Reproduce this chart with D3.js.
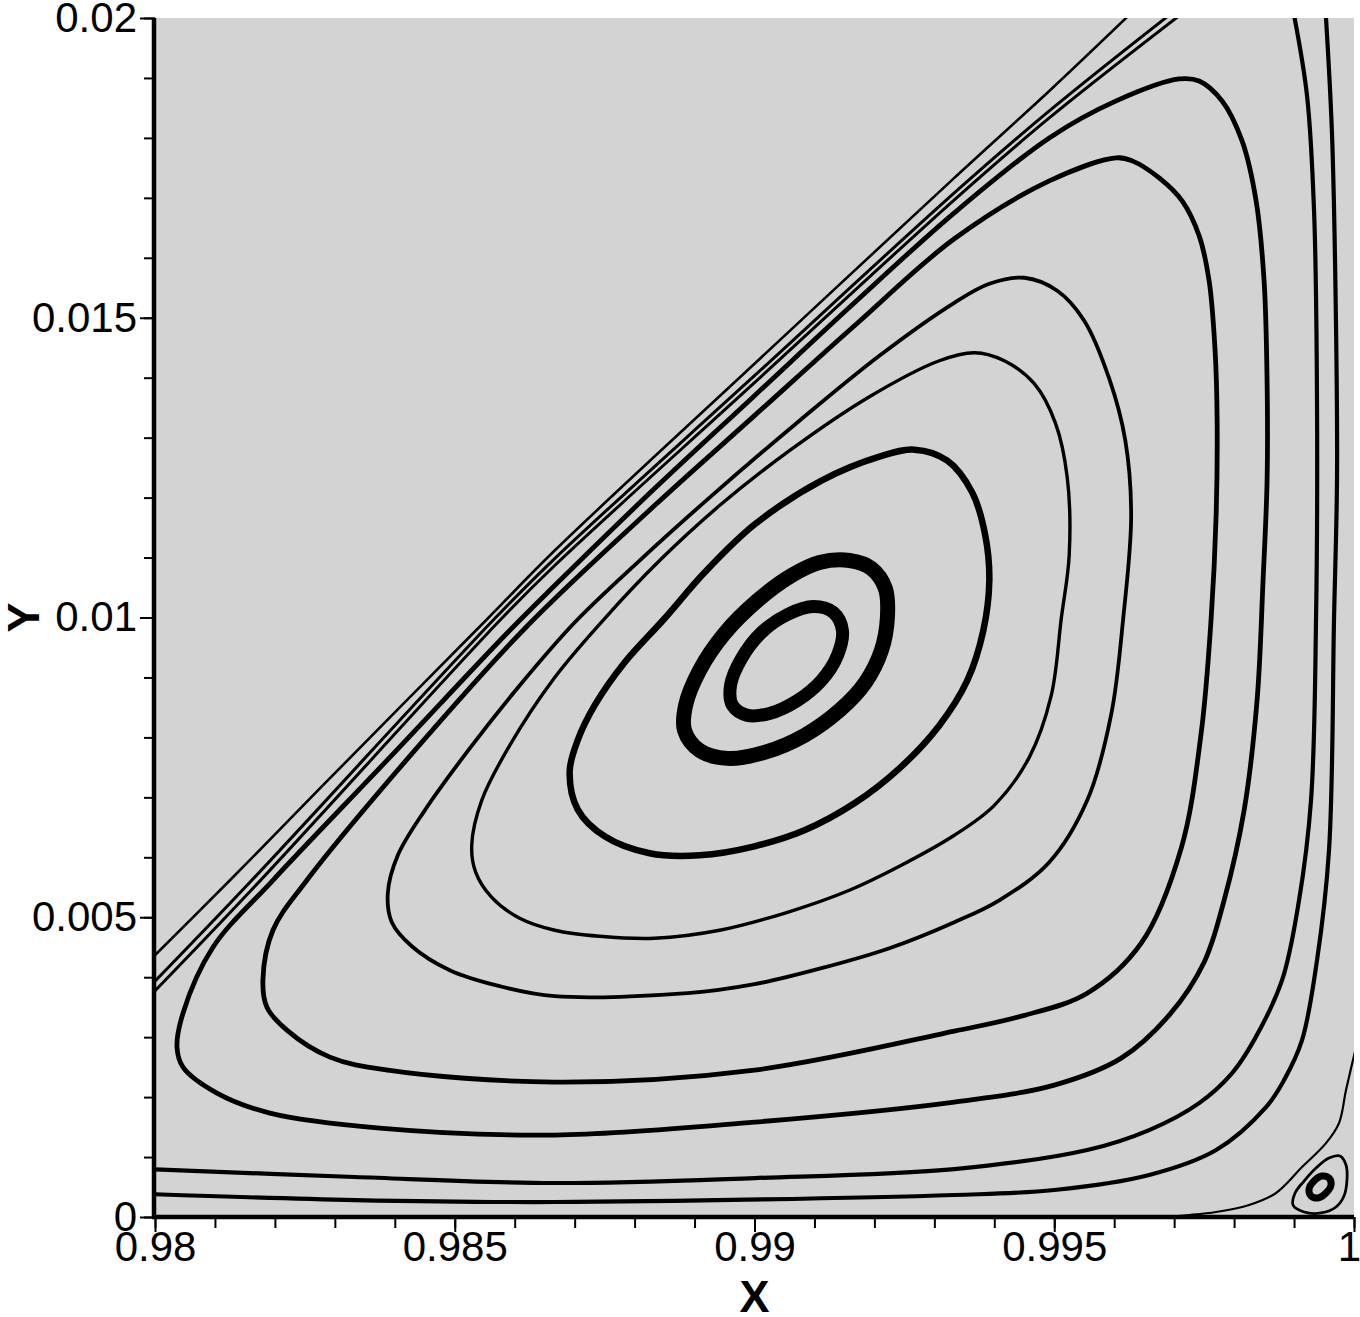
<!DOCTYPE html>
<html><head><meta charset="utf-8">
<script src="https://cdn.jsdelivr.net/npm/d3@7"></script>
<style>body{margin:0;background:#fff}svg{display:block}</style>
</head><body>
<svg id="chart" width="1360" height="1317"></svg>
<script>
// ---------- axis ticks ----------
const xTicks = [0.98, 0.985, 0.99, 0.995, 1];
const xTickLabels = ["0.98", "0.985", "0.99", "0.995", "1"];
const yTicks = [0, 0.005, 0.01, 0.015, 0.02];
const yTickLabels = ["0", "0.005", "0.01", "0.015", "0.02"];

// ---------- streamlines (X, Y) ----------
const loopA = [[0.990983,0.010183],[0.991317,0.010083],[0.991467,0.009783],[0.991383,0.009367],[0.991117,0.00895],[0.990717,0.008617],[0.99025,0.0084],[0.989883,0.008367],[0.989633,0.008533],[0.9896,0.008867],[0.989783,0.009317],[0.990117,0.00975],[0.99055,0.01005]];
const loopB = [[0.991083,0.010917],[0.991583,0.01095],[0.99195,0.010817],[0.992183,0.010483],[0.992217,0.01],[0.992117,0.00945],[0.99185,0.008917],[0.991417,0.00845],[0.990833,0.008033],[0.990167,0.00775],[0.98955,0.00765],[0.989083,0.007783],[0.988833,0.008117],[0.98885,0.008533],[0.989083,0.009117],[0.9895,0.009733],[0.99005,0.010283],[0.990617,0.0107]];
const loopC = [[0.992667,0.0128],[0.993217,0.012617],[0.993633,0.012083],[0.99385,0.011367],[0.993917,0.010617],[0.993817,0.009783],[0.99355,0.00895],[0.993083,0.0082],[0.992417,0.007483],[0.991667,0.0069],[0.990833,0.00645],[0.99,0.006183],[0.989083,0.006033],[0.98825,0.006067],[0.9875,0.00635],[0.98705,0.0068],[0.986917,0.007433],[0.98705,0.00795],[0.987333,0.008533],[0.987833,0.00925],[0.9885,0.009983],[0.989167,0.01075],[0.99,0.01155],[0.991117,0.012283],[0.992083,0.012683]];
const loopD = [[0.993667,0.014417],[0.994167,0.014283],[0.994667,0.0139],[0.995017,0.01325],[0.995217,0.012333],[0.99525,0.01105],[0.995117,0.009983],[0.99495,0.0087],[0.994583,0.007667],[0.994,0.006867],[0.993333,0.006367],[0.992417,0.00585],[0.991583,0.00545],[0.99055,0.005083],[0.989417,0.004783],[0.988333,0.00465],[0.987417,0.004683],[0.986667,0.004783],[0.986083,0.004983],[0.985617,0.005333],[0.98535,0.00575],[0.985283,0.0062],[0.98545,0.00695],[0.985917,0.007867],[0.986667,0.009],[0.9875,0.009983],[0.988417,0.01095],[0.989417,0.011867],[0.990583,0.012783],[0.991917,0.013683],[0.993083,0.014283]];
const loopE = [[0.993917,0.015567],[0.9945,0.015667],[0.99505,0.01545],[0.9955,0.01495],[0.995917,0.013983],[0.996183,0.012967],[0.996283,0.0117],[0.99615,0.009983],[0.99595,0.008383],[0.99555,0.00695],[0.994917,0.005917],[0.994083,0.005283],[0.993333,0.004917],[0.99225,0.004483],[0.991117,0.00415],[0.99,0.003883],[0.988883,0.003733],[0.986667,0.003683],[0.98575,0.00385],[0.984917,0.004117],[0.984283,0.004517],[0.98395,0.004917],[0.983883,0.0054],[0.98405,0.006033],[0.9845,0.006783],[0.98525,0.007817],[0.986083,0.008867],[0.987,0.009917],[0.988083,0.01095],[0.98925,0.012],[0.99075,0.013283],[0.992083,0.014367],[0.993333,0.01525]];
const loopF = [[0.996033,0.017667],[0.9963,0.017617],[0.99675,0.017333],[0.997133,0.01695],[0.997417,0.016367],[0.997583,0.015617],[0.997683,0.01445],[0.997717,0.013283],[0.9977,0.0117],[0.997617,0.009983],[0.99745,0.008067],[0.997117,0.00615],[0.99645,0.004567],[0.99555,0.003733],[0.99445,0.00335],[0.993333,0.0031],[0.99,0.00245],[0.986667,0.00225],[0.983883,0.00245],[0.982917,0.002667],[0.9822,0.003117],[0.981867,0.0035],[0.9818,0.00395],[0.981967,0.004783],[0.982533,0.005617],[0.984333,0.007783],[0.986217,0.009867],[0.988333,0.011867],[0.99,0.013367],[0.991667,0.014867],[0.993333,0.016317],[0.994917,0.017283]];
const loopG = [[0.996033,0.018617],[0.997083,0.018983],[0.997417,0.01895],[0.9978,0.018617],[0.998133,0.01795],[0.998367,0.01695],[0.9985,0.015617],[0.99855,0.01395],[0.99855,0.012283],[0.998483,0.010617],[0.998383,0.008617],[0.998167,0.006783],[0.997833,0.005283],[0.9975,0.00425],[0.996917,0.003367],[0.996117,0.00265],[0.995,0.0022],[0.993333,0.001917],[0.99,0.001583],[0.986667,0.001367],[0.98375,0.001483],[0.981917,0.001733],[0.981033,0.002067],[0.980467,0.0025],[0.980367,0.002833],[0.980467,0.0034],[0.980967,0.0045],[0.981967,0.005617],[0.983917,0.007667],[0.985883,0.00975],[0.986667,0.010533],[0.988333,0.01215],[0.99,0.0137],[0.991667,0.01525],[0.993333,0.01675],[0.994917,0.018]];
const diag1 = [[0.9799,0.00427],[0.98125,0.005617],[0.982783,0.007183],[0.98555,0.009983],[0.986667,0.011117],[0.99,0.014233],[0.993333,0.017333],[0.994917,0.018783],[0.99625,0.02005]];
const diag2 = [[0.9799,0.00383],[0.981583,0.005583],[0.985667,0.009983],[0.986667,0.010983],[0.99,0.014033],[0.993333,0.017083],[0.994917,0.01845],[0.99692,0.02005]];
const diag3 = [[0.9799,0.00367],[0.981667,0.005517],[0.98575,0.00995],[0.986667,0.010867],[0.99,0.013917],[0.993333,0.016967],[0.994917,0.018333],[0.9971,0.02005]];
const wall1 = [[0.999,0.02005],[0.999217,0.0187],[0.999333,0.0168],[0.999383,0.0136],[0.999367,0.009983],[0.999283,0.00695],[0.999083,0.005283],[0.9988,0.00395],[0.998333,0.00295],[0.997967,0.0024],[0.997417,0.0019],[0.996583,0.00145],[0.99555,0.001117],[0.993333,0.0008],[0.99,0.00065],[0.986667,0.000567],[0.983333,0.000667],[0.9799,0.0008]];
const wall2 = [[0.99953,0.02005],[0.999633,0.018067],[0.9997,0.014883],[0.999717,0.012333],[0.999667,0.009983],[0.999583,0.006117],[0.999383,0.004283],[0.999133,0.00295],[0.998833,0.002283],[0.998533,0.001833],[0.9977,0.001117],[0.996583,0.0007],[0.995,0.00045],[0.993333,0.000367],[0.986667,0.00025],[0.983333,0.000283],[0.9799,0.000383]];
const separatrix = [[1.00005,0.0029],[0.999867,0.002117],[0.99975,0.001567],[0.999533,0.001233],[0.999133,0.000833],[0.9987,0.0004],[0.99825,0.0002],[0.9977,0.000083],[0.99725,0.000033],[0.9968,0.0]];
const cornerOuter = [[0.999583,0.000983],[0.999767,0.001017],[0.999867,0.000867],[0.999883,0.000617],[0.999833,0.00035],[0.9997,0.000167],[0.99945,0.000067],[0.999167,0.000083],[0.998983,0.0002],[0.999017,0.0004],[0.999167,0.0006],[0.999367,0.000817]];
const cornerInner = [[0.999583,0.00065],[0.999617,0.000533],[0.999533,0.0004],[0.9994,0.000317],[0.999283,0.00035],[0.99925,0.000467],[0.999333,0.0006],[0.999467,0.000683]];

// ---------- styling (kept apart from data) ----------
const lineSpecs = [
  {data: wall1, closed: false, w: 4.2},
  {data: wall2, closed: false, w: 4.2},
  {data: diag1, closed: false, w: 2.6},
  {data: diag2, closed: false, w: 3},
  {data: diag3, closed: false, w: 3},
  {data: separatrix, closed: false, w: 2.2},
  {data: loopG, closed: true, w: 4.8},
  {data: loopF, closed: true, w: 4.8},
  {data: loopE, closed: true, w: 3.8},
  {data: loopD, closed: true, w: 3.4},
  {data: loopC, closed: true, w: 6.5},
  {data: loopB, closed: true, w: 15},
  {data: loopA, closed: true, w: 13},
  {data: cornerOuter, closed: true, w: 2.8},
  {data: cornerInner, closed: true, w: 7}
];

const svg = d3.select("#chart");
const L = 155, R = 1354, T = 18, B = 1217;
const x = d3.scaleLinear().domain([0.98, 1]).range([L, R]);
const y = d3.scaleLinear().domain([0, 0.02]).range([B, T]);

svg.append("rect").attr("x", L).attr("y", T).attr("width", R - L).attr("height", B - T).attr("fill", "#d3d3d3");

svg.append("defs").append("clipPath").attr("id", "plotclip")
  .append("rect").attr("x", L).attr("y", T).attr("width", R - L).attr("height", B - T);

const gLines = svg.append("g").attr("clip-path", "url(#plotclip)");
const openLine = d3.line().x(d => x(d[0])).y(d => y(d[1])).curve(d3.curveCatmullRom.alpha(0.5));
const closedLine = d3.line().x(d => x(d[0])).y(d => y(d[1])).curve(d3.curveCatmullRomClosed.alpha(0.5));

gLines.selectAll("path").data(lineSpecs).join("path")
  .attr("d", s => (s.closed ? closedLine : openLine)(s.data))
  .attr("fill", "none").attr("stroke", "#000")
  .attr("stroke-width", s => s.w)
  .attr("stroke-linejoin", "round").attr("stroke-linecap", "butt");

const font = "'Liberation Sans', Arial, Helvetica, sans-serif";

// minor ticks
svg.append("g").attr("transform", `translate(0,${B})`)
  .call(d3.axisBottom(x).tickValues(x.ticks(20)).tickSize(11).tickFormat(""))
  .call(g => g.select(".domain").remove())
  .call(g => g.selectAll("line").attr("stroke-width", 2));
svg.append("g").attr("transform", `translate(${L},0)`)
  .call(d3.axisLeft(y).tickValues(y.ticks(20)).tickSize(11).tickFormat(""))
  .call(g => g.select(".domain").remove())
  .call(g => g.selectAll("line").attr("stroke-width", 2));

// major ticks + labels
const gx = svg.append("g").attr("transform", `translate(0,${B})`)
  .call(d3.axisBottom(x).tickValues(xTicks).tickSize(15).tickPadding(0)
    .tickFormat((d, i) => xTickLabels[i]))
  .call(g => g.select(".domain").remove());
gx.selectAll("line").attr("stroke-width", 2);
gx.selectAll("text").attr("font-family", font).attr("font-size", 42).attr("fill", "#000").attr("y", 14)
  .attr("dx", (d, i) => i === xTicks.length - 1 ? -5 : 0);

const gy = svg.append("g").attr("transform", `translate(${L},0)`)
  .call(d3.axisLeft(y).tickValues(yTicks).tickSize(15).tickPadding(3)
    .tickFormat((d, i) => yTickLabels[i]))
  .call(g => g.select(".domain").remove());
gy.selectAll("line").attr("stroke-width", 2);
gy.selectAll("text").attr("font-family", font).attr("font-size", 42).attr("fill", "#000");

// axis lines
svg.append("line").attr("x1", L - 1).attr("x2", L - 1).attr("y1", T).attr("y2", B + 2)
  .attr("stroke", "#000").attr("stroke-width", 4.5);
svg.append("line").attr("x1", L - 3).attr("x2", R).attr("y1", B).attr("y2", B)
  .attr("stroke", "#000").attr("stroke-width", 4.5);

// axis titles
svg.append("text").attr("x", (L + R) / 2).attr("y", 1312).attr("text-anchor", "middle")
  .attr("font-family", font).attr("font-weight", "bold").attr("font-size", 45).text("X");
svg.append("text").attr("transform", `translate(39,${(T + B) / 2}) rotate(-90)`).attr("text-anchor", "middle")
  .attr("font-family", font).attr("font-weight", "bold").attr("font-size", 45).text("Y");
</script>
</body></html>
